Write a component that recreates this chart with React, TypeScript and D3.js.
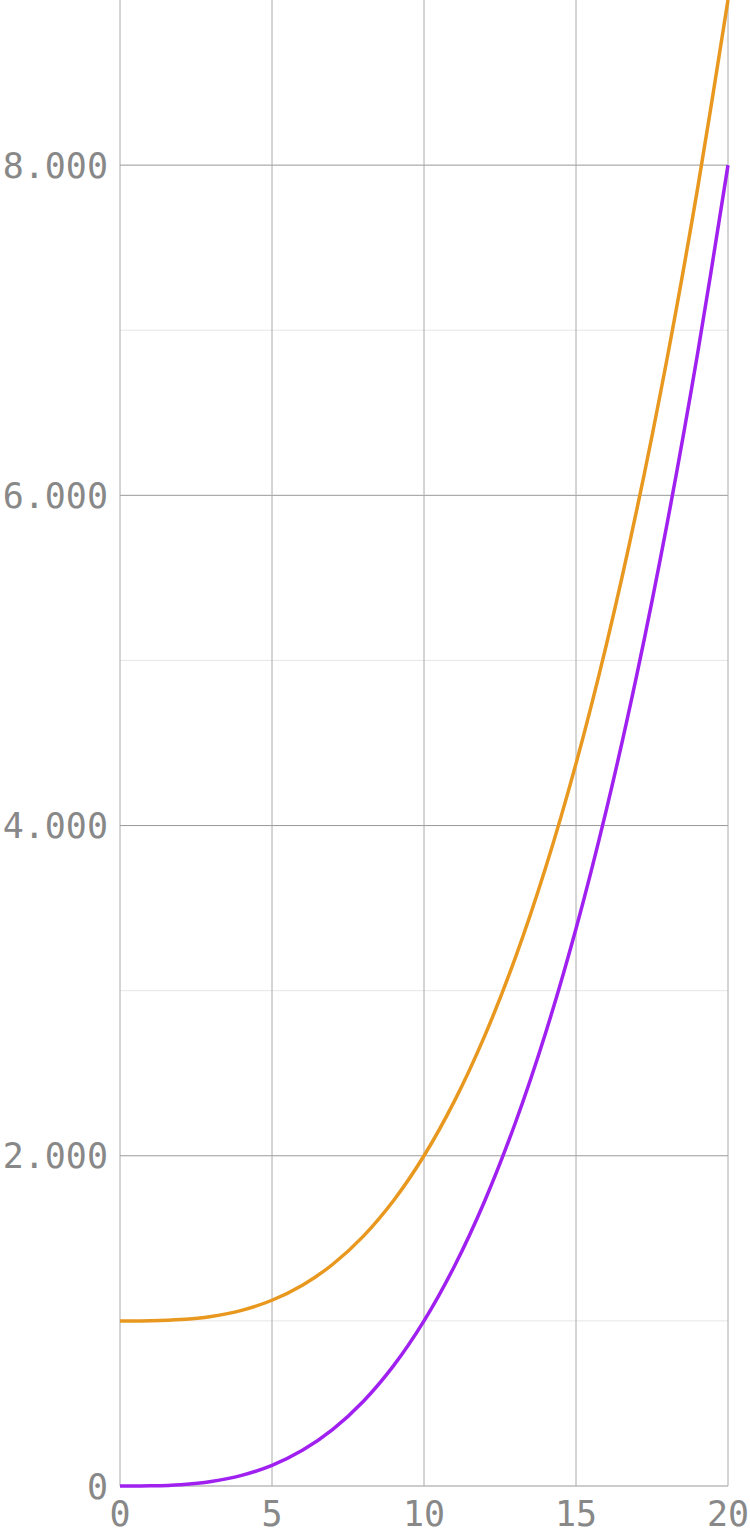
import React from "react";
import * as d3 from "d3";

const xValues = [0, 1, 2, 3, 4, 5, 6, 7, 8, 9, 10, 11, 12, 13, 14, 15, 16, 17, 18, 19, 20];
const purpleValues = [0, 1, 8, 27, 64, 125, 216, 343, 512, 729, 1000, 1331, 1728, 2197, 2744, 3375, 4096, 4913, 5832, 6859, 8000];
const orangeValues = [1000, 1001, 1008, 1027, 1064, 1125, 1216, 1343, 1512, 1729, 2000, 2331, 2728, 3197, 3744, 4375, 5096, 5913, 6832, 7859, 9000];
const xTicks = [0, 5, 10, 15, 20];
const yMajorTicks = [0, 2000, 4000, 6000, 8000];
const yMinorTicks = [1000, 3000, 5000, 7000];
const yTickLabels = ["0", "2.000", "4.000", "6.000", "8.000"];

const W = 750;
const H = 1536;

export default function App() {
  const x = d3.scaleLinear().domain([0, 20]).range([120, 728]);
  const y = d3.scaleLinear().domain([0, 9000]).range([1486, 0]);
  const line = (vals: number[]) =>
    d3
      .line<number>()
      .x((_, i) => x(xValues[i]))
      .y((d) => y(d))
      .curve(d3.curveCatmullRom.alpha(0.5))(vals) || "";
  const font = "'DejaVu Sans Mono', monospace";
  return (
    <svg
      width={W}
      height={H}
      style={{ position: "absolute", left: 0, top: 0, display: "block", background: "#fff" }}
    >
      {yMinorTicks.map((t) => (
        <line key={"mi" + t} x1={x(0)} x2={x(20)} y1={y(t)} y2={y(t)} stroke="#e6e6e6" strokeWidth={1} />
      ))}
      {yMajorTicks.map((t) => (
        <line key={"ma" + t} x1={x(0)} x2={x(20)} y1={y(t)} y2={y(t)} stroke="#999" strokeWidth={1} />
      ))}
      {xTicks.map((t) => (
        <line key={"vx" + t} x1={x(t)} x2={x(t)} y1={0} y2={y(0)} stroke="#aaa" strokeWidth={1} />
      ))}
      <path d={line(orangeValues)} fill="none" stroke="#E8981F" strokeWidth={3.5} />
      <path d={line(purpleValues)} fill="none" stroke="#A020F0" strokeWidth={3.5} />
      {yMajorTicks.map((t, i) => (
        <text
          key={"yl" + t}
          x={108}
          y={y(t)}
          dy="0.36em"
          textAnchor="end"
          fontFamily={font}
          fontSize={35}
          fill="#888"
        >
          {yTickLabels[i]}
        </text>
      ))}
      {xTicks.map((t) => (
        <text
          key={"xl" + t}
          x={x(t)}
          y={1526}
          textAnchor="middle"
          fontFamily={font}
          fontSize={35}
          fill="#888"
        >
          {t}
        </text>
      ))}
    </svg>
  );
}
